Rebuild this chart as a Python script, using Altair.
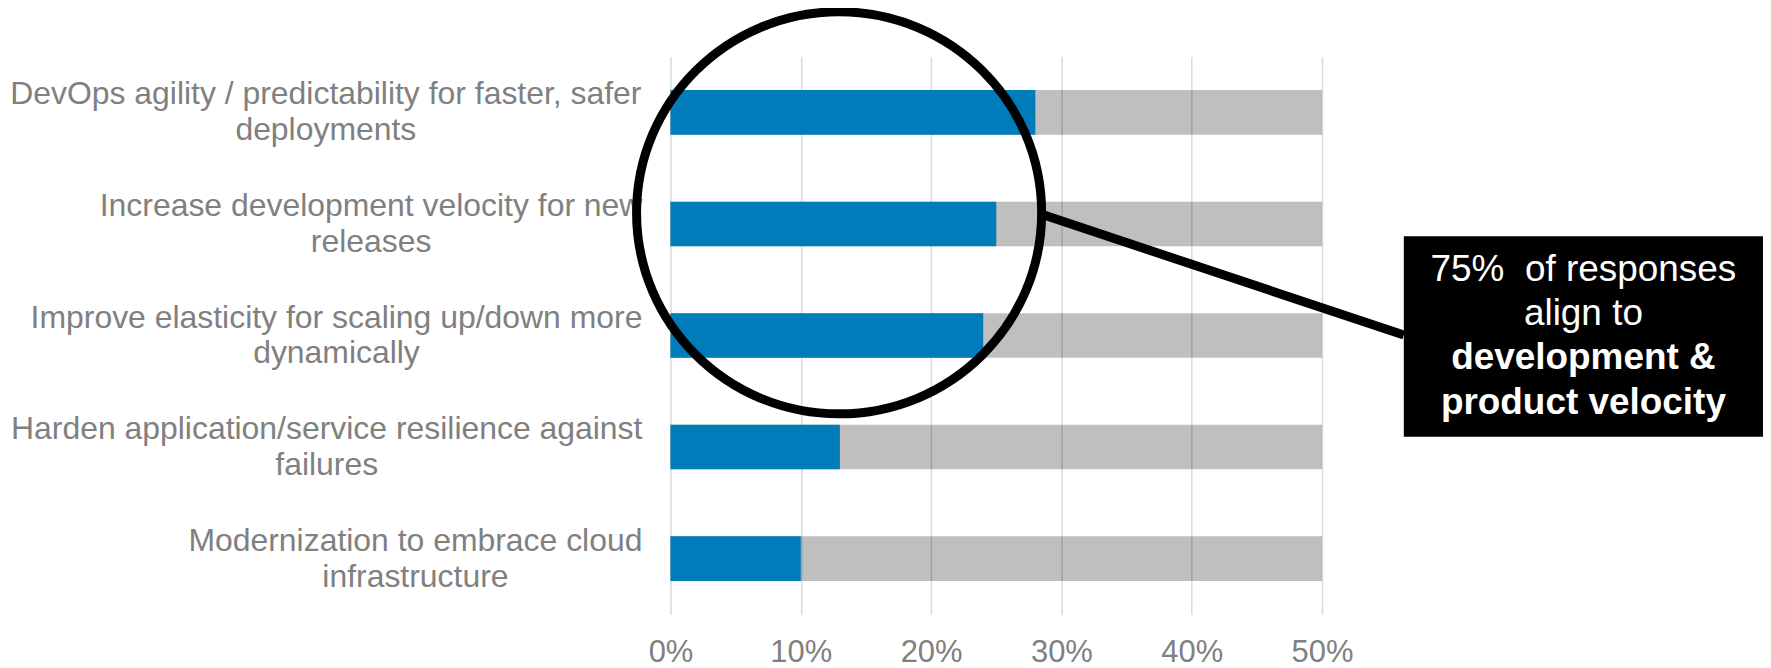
import altair as alt
import pandas as pd

# ---------------- data ----------------
categories = [
    "DevOps agility / predictability for faster, safer\ndeployments",
    "Increase development velocity for new\nreleases",
    "Improve elasticity for scaling up/down more\ndynamically",
    "Harden application/service resilience against\nfailures",
    "Modernization to embrace cloud\ninfrastructure",
]
blue_values = [0.28, 0.25, 0.24, 0.13, 0.10]
gray_values = [0.50, 0.50, 0.50, 0.50, 0.50]
x_ticks = [0.0, 0.1, 0.2, 0.3, 0.4, 0.5]
callout_regular = "75%\u00a0 of responses\nalign to"
callout_bold = "development &\nproduct velocity"

# ---------------- layout ----------------
W, H = 653, 559
FONT = "Liberation Sans"
LABEL_SIZE = 32
LABEL_LH = 36
LABEL_RIGHT = -28  # px, right edge of category label blocks
BOX_SIZE = 37
BOX_LH = 44.5

# Arial / Liberation Sans advance widths (1/1000 em)
ARIAL = {" ": 278, "/": 278, ",": 278, "%": 889, "&": 667,
         "A": 667, "D": 722, "H": 722, "I": 278, "M": 833, "O": 778,
         "a": 556, "b": 556, "c": 500, "d": 556, "e": 556, "f": 278, "g": 556,
         "h": 556, "i": 222, "j": 222, "k": 500, "l": 222, "m": 833, "n": 556,
         "o": 556, "p": 556, "q": 556, "r": 333, "s": 500, "t": 278, "u": 556,
         "v": 500, "w": 722, "x": 500, "y": 500, "z": 500}


def text_width(s, size):
    return sum(ARIAL.get(ch, 556) for ch in s) * size / 1000.0


first_lines = [c.split("\n")[0] for c in categories]
label_x = [(LABEL_RIGHT - text_width(l, LABEL_SIZE) / 2.0) * 0.5 / W for l in first_lines]

df = pd.DataFrame({"cat": categories, "blue": blue_values, "gray": gray_values, "lx": label_x})
one = pd.DataFrame({"k": [0]})

xs = alt.Scale(domain=[0, 0.5], nice=False, zero=True)
ys = alt.Scale(domain=categories, paddingInner=0.6, paddingOuter=0.3)
y_enc = alt.Y("cat:N", scale=ys, axis=None, sort=None)

x_axis = alt.Axis(values=x_ticks, format=".0%", grid=True, gridColor="#D9D9D9",
                  gridWidth=1.5, domain=False, ticks=False, tickSize=0,
                  labelFontSize=31, labelFont=FONT, labelColor="#808080",
                  labelPadding=47, labelBaseline="alphabetic", labelFlush=False,
                  labelOverlap=False, title=None)

base = alt.Chart(df)

gray = base.mark_bar(color="#000000", opacity=0.25).encode(
    x=alt.X("gray:Q", scale=xs, axis=x_axis), y=y_enc)
blue = base.mark_bar(color="#007CBA", opacity=1).encode(
    x=alt.X("blue:Q", scale=xs, axis=x_axis), y=y_enc)
labels = base.mark_text(align="center", baseline="middle", lineBreak="\n",
                        fontSize=LABEL_SIZE, font=FONT, color="#808080",
                        lineHeight=LABEL_LH, dy=-LABEL_LH / 2).encode(
    x=alt.X("lx:Q", scale=xs, axis=x_axis), y=y_enc, text="cat:N")

ellipse_path = "M -1 0 A 1 0.9926 0 1 0 1 0 A 1 0.9926 0 1 0 -1 0 Z"
circle = alt.Chart(one).mark_point(shape=ellipse_path, size=406 * 406, filled=False,
                                   stroke="black", strokeWidth=9, opacity=1).encode(
    x=alt.value(169), y=alt.value(156.5))

leader = alt.Chart(one).mark_rule(color="black", strokeWidth=9).encode(
    x=alt.value(375), y=alt.value(159), x2=alt.value(735), y2=alt.value(279))

box = alt.Chart(one).mark_rect(color="black").encode(
    x=alt.value(735), x2=alt.value(1095), y=alt.value(180), y2=alt.value(381))

txt_reg = alt.Chart(one).mark_text(align="center", baseline="middle", lineBreak="\n",
                                   fontSize=BOX_SIZE, font=FONT, color="white",
                                   lineHeight=BOX_LH).encode(
    x=alt.value(915), y=alt.value(213.5), text=alt.value(callout_regular))
txt_bold = alt.Chart(one).mark_text(align="center", baseline="middle", lineBreak="\n",
                                    fontSize=BOX_SIZE, font=FONT, fontWeight="bold",
                                    color="white", lineHeight=BOX_LH).encode(
    x=alt.value(915), y=alt.value(302.5), text=alt.value(callout_bold))

chart = alt.layer(gray, blue, labels, circle, leader, box, txt_reg, txt_bold).properties(
    width=W, height=H,
    padding={"left": 664, "top": 48, "right": 442, "bottom": 53},
    autosize=alt.AutoSizeParams(type="none"),
).configure_view(stroke=None)

chart.save("out.html", embed_options={"renderer": "svg", "actions": False})
